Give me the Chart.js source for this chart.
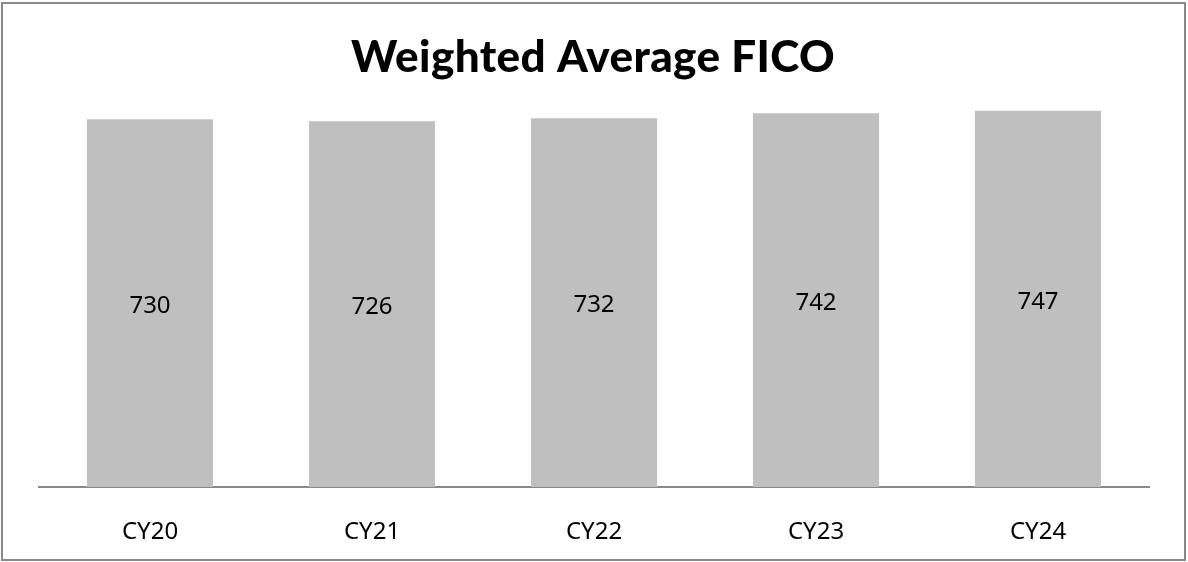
<!DOCTYPE html>
<html><head><meta charset="utf-8">
<style>html,body{margin:0;padding:0;background:#fff;}#wrap{position:absolute;left:0;top:0;width:1188px;height:562px;}</style>
<script src="https://cdn.jsdelivr.net/npm/chart.js@4/dist/chart.umd.min.js"></script>
</head><body><div id="wrap"><canvas id="c" width="1188" height="562"></canvas></div>
<script>
const categories = ["CY20","CY21","CY22","CY23","CY24"];
const ficoValues = [730,726,732,742,747];
const chartTitle = "Weighted Average FICO";

const framePlugin = {
  id:'frame',
  beforeDraw(chart){
    const ctx = chart.ctx;
    ctx.save();
    ctx.fillStyle='#fff';ctx.fillRect(0,0,chart.width,chart.height);
    ctx.strokeStyle='#8a8a8a';ctx.lineWidth=2;
    ctx.strokeRect(2,3,1183,557);
    ctx.fillStyle='#000';
    ctx.font='900 44px Lato, "Open Sans", sans-serif';
    try{ctx.letterSpacing='0.4px';}catch(e){}
    ctx.textAlign='center';ctx.textBaseline='alphabetic';
    ctx.fillText(chartTitle,593,72);
    ctx.restore();
  },
  afterDatasetsDraw(chart){
    const ctx = chart.ctx;
    const meta = chart.getDatasetMeta(0);
    ctx.save();
    ctx.fillStyle='#000';
    ctx.font='24px "Noto Sans", sans-serif';
    ctx.textAlign='center';ctx.textBaseline='middle';
    meta.data.forEach((bar,i)=>{
      ctx.fillText(String(chart.data.datasets[0].data[i]), bar.x, (bar.y+bar.base)/2+3);
    });
    ctx.restore();
  }
};

new Chart(document.getElementById('c'),{
  type:'bar',
  data:{labels:categories,datasets:[{data:ficoValues,backgroundColor:'#bfbfbf',borderWidth:0,categoryPercentage:1,barPercentage:0.568}]},
  options:{
    responsive:false,animation:false,
    layout:{padding:{left:39,right:39,top:84,bottom:0}},
    plugins:{legend:{display:false},title:{display:false},tooltip:{enabled:false}},
    scales:{
      x:{grid:{display:false,drawTicks:false},border:{display:true,color:'#898989',width:2},
         ticks:{color:'#000',font:{family:'"Noto Sans", sans-serif',size:24},padding:31},
         afterFit(s){s.height=75;}},
      y:{display:false,min:0,max:800}
    }
  },
  plugins:[framePlugin]
});
</script></body></html>
